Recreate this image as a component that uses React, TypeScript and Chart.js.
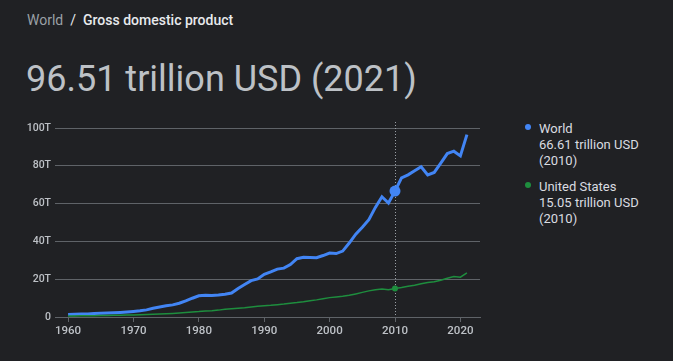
import React, { useEffect, useRef } from "react";
import { Chart, registerables } from "chart.js";

Chart.register(...registerables);

const years: number[] = [
  1960, 1961, 1962, 1963, 1964, 1965, 1966, 1967, 1968, 1969,
  1970, 1971, 1972, 1973, 1974, 1975, 1976, 1977, 1978, 1979,
  1980, 1981, 1982, 1983, 1984, 1985, 1986, 1987, 1988, 1989,
  1990, 1991, 1992, 1993, 1994, 1995, 1996, 1997, 1998, 1999,
  2000, 2001, 2002, 2003, 2004, 2005, 2006, 2007, 2008, 2009,
  2010, 2011, 2012, 2013, 2014, 2015, 2016, 2017, 2018, 2019,
  2020, 2021,
];

const worldGdp: number[] = [
  1.38, 1.44, 1.53, 1.64, 1.8, 1.96, 2.13, 2.26, 2.44, 2.69,
  2.96, 3.27, 3.77, 4.59, 5.3, 5.9, 6.42, 7.26, 8.54, 9.93,
  11.23, 11.46, 11.35, 11.63, 12.07, 12.71, 15.05, 17.17, 19.26, 20.12,
  22.62, 23.89, 25.35, 25.85, 27.78, 30.87, 31.55, 31.44, 31.37, 32.52,
  33.83, 33.58, 34.88, 39.13, 43.81, 47.46, 51.45, 57.99, 63.61, 60.33,
  66.61, 73.63, 75.19, 77.33, 79.46, 75.18, 76.47, 81.39, 86.45, 87.73,
  85.24, 96.51,
];

const usGdp: number[] = [
  0.54, 0.56, 0.61, 0.64, 0.69, 0.74, 0.82, 0.86, 0.94, 1.02,
  1.07, 1.16, 1.28, 1.43, 1.55, 1.69, 1.88, 2.09, 2.36, 2.63,
  2.86, 3.21, 3.34, 3.64, 4.04, 4.35, 4.59, 4.87, 5.25, 5.66,
  5.96, 6.16, 6.52, 6.86, 7.29, 7.64, 8.07, 8.58, 9.06, 9.63,
  10.25, 10.58, 10.94, 11.46, 12.21, 13.04, 13.82, 14.47, 14.77, 14.48,
  15.05, 15.6, 16.25, 16.84, 17.55, 18.21, 18.7, 19.48, 20.53, 21.38,
  21.06, 23.32,
];

const xTicks: number[] = [1960, 1970, 1980, 1990, 2000, 2010, 2020];
const yTicks: number[] = [0, 20, 40, 60, 80, 100];
const highlightYear = 2010;

const BG = "#202124";
const BLUE = "#4285f4";
const GREEN = "#1e8e3e";
const GRID = "#5f6368";
const TICK_TEXT = "#bdc1c6";

const FONT = "Roboto, 'Noto Sans', Arial, sans-serif";

export default function App() {
  const canvasRef = useRef<HTMLCanvasElement | null>(null);

  useEffect(() => {
    const canvas = canvasRef.current;
    if (!canvas) return;

    const vline = {
      id: "vline",
      beforeDatasetsDraw(chart: any) {
        const { ctx, chartArea, scales } = chart;
        const x = Math.round(scales.x.getPixelForValue(highlightYear)) + 0.5;
        ctx.save();
        ctx.strokeStyle = "#9aa0a6";
        ctx.lineWidth = 1;
        ctx.setLineDash([1, 2]);
        ctx.beginPath();
        ctx.moveTo(x, chartArea.top - 6);
        ctx.lineTo(x, chartArea.bottom);
        ctx.stroke();
        ctx.restore();
      },
    };

    const chart = new Chart(canvas, {
      type: "line",
      data: {
        datasets: [
          {
            label: "World",
            data: years.map((y, i) => ({ x: y, y: worldGdp[i] })),
            borderColor: BLUE,
            backgroundColor: BLUE,
            borderWidth: 3,
            tension: 0,
            pointRadius: (c: any) => (years[c.dataIndex] === highlightYear ? 5.5 : 0),
            pointHoverRadius: 0,
            pointBorderWidth: 0,
            order: 1,
          },
          {
            label: "United States",
            data: years.map((y, i) => ({ x: y, y: usGdp[i] })),
            borderColor: GREEN,
            backgroundColor: GREEN,
            borderWidth: 1.5,
            tension: 0,
            pointRadius: (c: any) => (years[c.dataIndex] === highlightYear ? 3 : 0),
            pointHoverRadius: 0,
            pointBorderWidth: 0,
            order: 0,
          },
        ],
      },
      options: {
        animation: false,
        responsive: false,
        maintainAspectRatio: false,
        events: [],
        layout: { padding: { top: 27, right: 10, left: 0, bottom: 0 } },
        plugins: {
          legend: { display: false },
          tooltip: { enabled: false },
        },
        scales: {
          x: {
            type: "linear",
            min: 1958,
            max: 2023,
            afterBuildTicks: (axis: any) => {
              axis.ticks = xTicks.map((v) => ({ value: v }));
            },
            afterFit: (axis: any) => {
              axis.height = 34;
            },
            grid: {
              drawOnChartArea: false,
              drawTicks: true,
              tickLength: 5,
              color: GRID,
            },
            border: { display: true, color: GRID },
            ticks: {
              color: TICK_TEXT,
              font: { family: FONT, size: 11.5, weight: "500" },
              padding: 2,
              maxRotation: 0,
              autoSkip: false,
              callback: (v: any) => String(v),
            },
          },
          y: {
            min: 0,
            max: 100,
            afterBuildTicks: (axis: any) => {
              axis.ticks = yTicks.map((v) => ({ value: v }));
            },
            afterFit: (axis: any) => {
              axis.width = 55;
            },
            grid: { color: GRID, drawTicks: false, lineWidth: 1 },
            border: { display: false },
            ticks: {
              color: TICK_TEXT,
              font: { family: FONT, size: 10.5, weight: "500" },
              padding: 4,
              callback: (v: any) => (v === 0 ? "0" : `${v}T`),
            },
          },
        },
      },
      plugins: [vline],
    } as any);

    return () => chart.destroy();
  }, []);

  const legendItem = (color: string, name: string, value: string, top: number) => (
    <div style={{ position: "absolute", left: 539, top, fontSize: 13, lineHeight: "16px", color: "#dadce0" }}>
      <span
        style={{
          position: "absolute",
          left: -14,
          top: 3,
          width: 6,
          height: 6,
          borderRadius: "50%",
          background: color,
        }}
      />
      <div>{name}</div>
      <div>{value}</div>
      <div>(2010)</div>
    </div>
  );

  return (
    <div
      style={{
        position: "fixed",
        left: 0,
        top: 0,
        width: 673,
        height: 361,
        background: BG,
        fontFamily: FONT,
        overflow: "hidden",
      }}
    >
      <div style={{ position: "absolute", left: 27, top: 10, fontSize: 14, lineHeight: "20px", whiteSpace: "nowrap" }}>
        <span style={{ color: "#9aa0a6" }}>World</span>
        <span style={{ color: "#e8eaed", margin: "0 7px" }}>/</span>
        <span style={{ color: "#e8eaed", fontWeight: 500 }}>Gross domestic product</span>
      </div>
      <div
        style={{
          position: "absolute",
          left: 26,
          top: 57,
          fontSize: 36,
          lineHeight: "44px",
          color: "#bdc1c6",
          whiteSpace: "nowrap",
        }}
      >
        96.51 trillion USD (2021)
      </div>
      <canvas
        ref={canvasRef}
        width={490}
        height={250}
        style={{ position: "absolute", left: 0, top: 101, width: 490, height: 250 }}
      />
      {legendItem(BLUE, "World", "66.61 trillion USD", 121)}
      {legendItem(GREEN, "United States", "15.05 trillion USD", 179)}
    </div>
  );
}
